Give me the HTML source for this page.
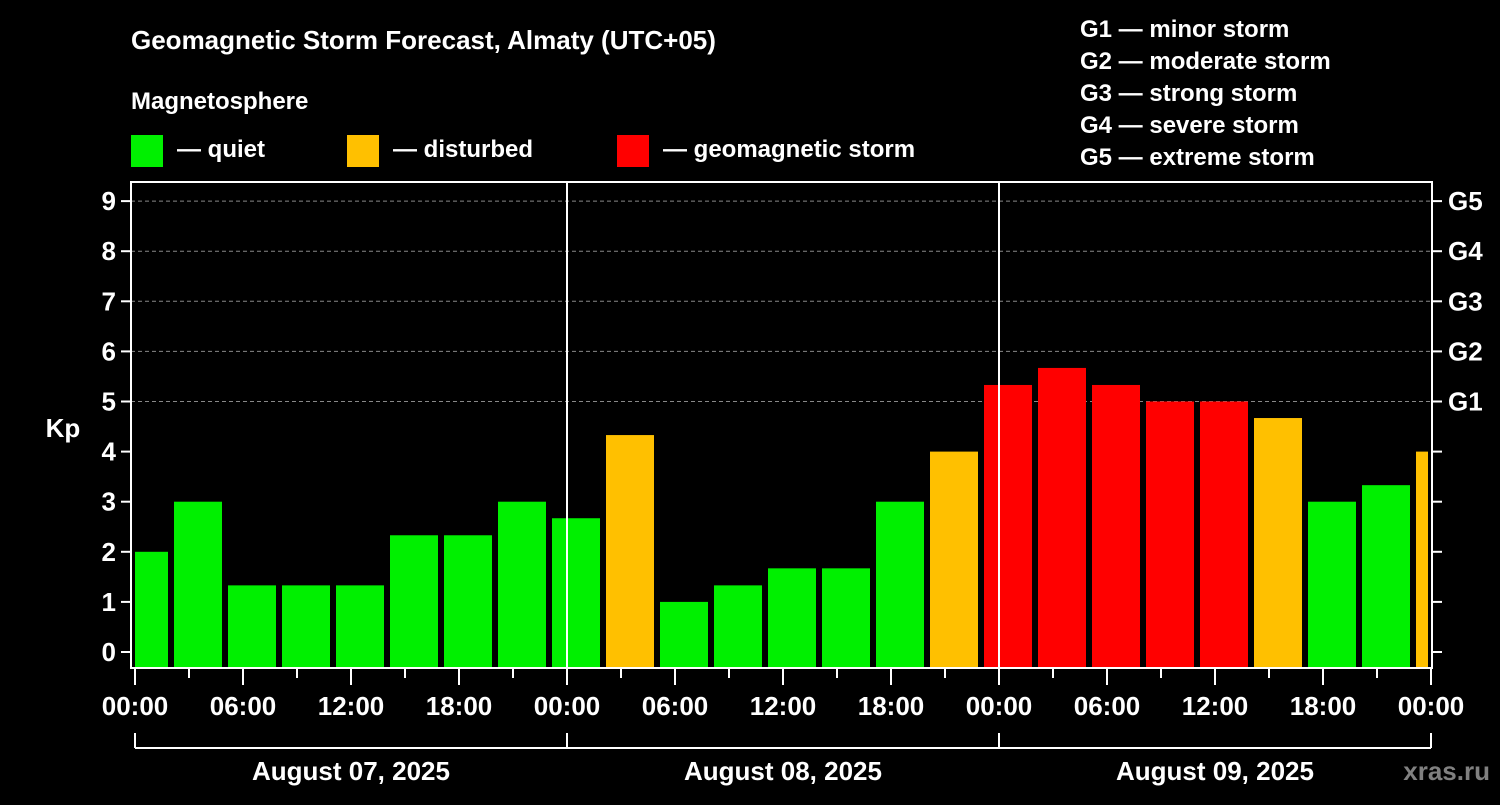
<!DOCTYPE html>
<html><head><meta charset="utf-8"><style>
body{margin:0;background:#000;width:1500px;height:800px;overflow:hidden;font-family:"Liberation Sans",Arial,sans-serif}
svg text{font-family:"Liberation Sans",Arial,sans-serif;font-weight:bold;fill:#fff}
</style></head><body>
<svg id="c" width="1500" height="800">
<text x="131" y="49" font-size="26">Geomagnetic Storm Forecast, Almaty (UTC+05)</text>
<text x="131" y="109" font-size="24">Magnetosphere</text>
<g><rect x="131" y="135" width="32" height="32" fill="#00f000"/><text x="177" y="157" font-size="24">— quiet</text></g>
<g><rect x="347" y="135" width="32" height="32" fill="#ffc000"/><text x="393" y="157" font-size="24">— disturbed</text></g>
<g><rect x="617" y="135" width="32" height="32" fill="#ff0000"/><text x="663" y="157" font-size="24">— geomagnetic storm</text></g>
<g font-size="24">
<text x="1080" y="37">G1 — minor storm</text><text x="1080" y="69">G2 — moderate storm</text><text x="1080" y="101">G3 — strong storm</text><text x="1080" y="133">G4 — severe storm</text><text x="1080" y="165">G5 — extreme storm</text></g>
<text x="63" y="437" font-size="26" text-anchor="middle">Kp</text>
<text x="1490" y="780" font-size="26" text-anchor="end" style="fill:#808080">xras.ru</text>
<g id="grid"></g><g id="bars"></g><g id="axes"></g>
</svg>
<script>
const kpValues=[2,3,1.33,1.33,1.33,2.33,2.33,3,2.67,4.33,1,1.33,1.67,1.67,3,4,5.33,5.67,5.33,5,5,4.67,3,3.33,4];
const yTicks=[0,1,2,3,4,5,6,7,8,9];
const gLabels=["G1","G2","G3","G4","G5"];
const xLabels=["00:00","06:00","12:00","18:00","00:00","06:00","12:00","18:00","00:00","06:00","12:00","18:00","00:00"];
const dayLabels=["August 07, 2025","August 08, 2025","August 09, 2025"];
const NS="http://www.w3.org/2000/svg";
const L=131,R=1432,T=182,B=668,X0=135,slot=54;
const y=v=>652-v*50.1;
const x=i=>X0+i*slot;
function mk(p,t,a){const e=document.createElementNS(NS,t);for(const k in a)e.setAttribute(k,a[k]);document.getElementById(p).appendChild(e);return e;}
yTicks.forEach(v=>{if(v>=5){const g=mk('grid','line',{x1:L,x2:R,y1:y(v),y2:y(v),stroke:'#888','stroke-dasharray':'4,3'});

}});
kpValues.forEach((v,i)=>{let s=x(i)-15,e=s+48;s=Math.max(s,L+4);e=Math.min(e,R-4);
const c=v>=5?'#ff0000':v>=4?'#ffc000':'#00f000';
const r=mk('bars','rect',{x:s,y:y(v),width:e-s,height:B-y(v),fill:c});

});
[567,999].forEach(px=>{mk('axes','line',{x1:px,x2:px,y1:T,y2:B,stroke:'#fff','stroke-width':2});});
const f=mk('axes','rect',{x:L,y:T,width:R-L,height:B-T,fill:'none',stroke:'#fff','stroke-width':2});


yTicks.forEach(v=>{mk('axes','line',{x1:L-10,x2:L,y1:y(v),y2:y(v),stroke:'#fff','stroke-width':2});
mk('axes','line',{x1:R,x2:R+10,y1:y(v),y2:y(v),stroke:'#fff','stroke-width':2});
const t=mk('axes','text',{x:116,y:y(v)+9,'font-size':26,'text-anchor':'end'});t.textContent=v;

});
gLabels.forEach((g,i)=>{const t=mk('axes','text',{x:1448,y:y(5+i)+9,'font-size':26});t.textContent=g;

});
for(let k=0;k<=24;k++){const px=x(k);mk('axes','line',{x1:px,x2:px,y1:B,y2:B+(k%2?10:17),stroke:'#fff','stroke-width':2});}
xLabels.forEach((l,i)=>{const t=mk('axes','text',{x:x(i*2),y:715,'font-size':26,'text-anchor':'middle'});t.textContent=l;

});
mk('axes','line',{x1:x(0),x2:x(24),y1:748,y2:748,stroke:'#fff','stroke-width':2});
[0,8,16,24].forEach(k=>mk('axes','line',{x1:x(k),x2:x(k),y1:733,y2:748,stroke:'#fff','stroke-width':2}));
dayLabels.forEach((d,i)=>{const t=mk('axes','text',{x:x(i*8+4),y:780,'font-size':26,'text-anchor':'middle'});t.textContent=d;

});
</script>
</body></html>
